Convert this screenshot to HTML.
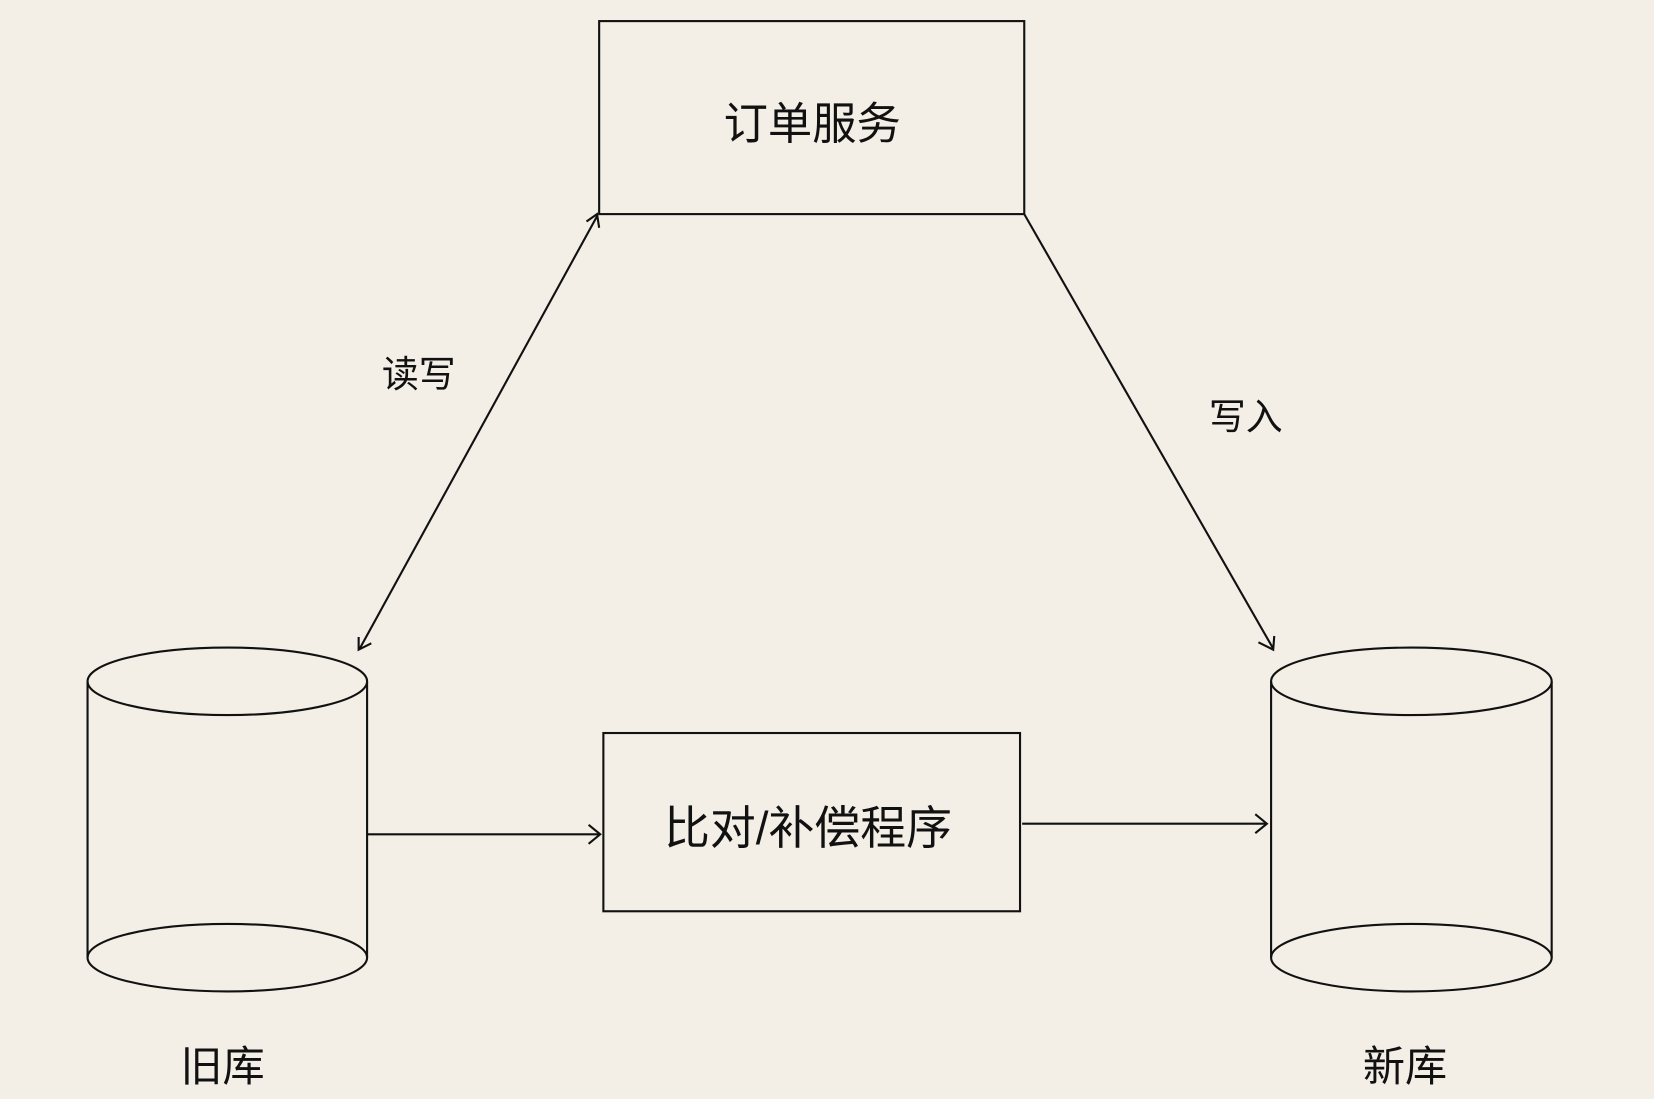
<!DOCTYPE html>
<html><head><meta charset="utf-8"><style>
html,body{margin:0;padding:0;background:#f3efe6;}
svg{display:block;}
text{font-family:"Liberation Sans","Noto Sans CJK SC",sans-serif;fill:#111;}
</style></head><body>
<svg width="1654" height="1099" viewBox="0 0 1568 1042" preserveAspectRatio="none" xmlns="http://www.w3.org/2000/svg">
<rect width="1568" height="1042" fill="#f3efe6"/>
<g stroke="#111" stroke-width="2" fill="none">
<rect x="568" y="20" width="403" height="183"/>
<rect x="572" y="695" width="395" height="169"/>
<line x1="566" y1="205" x2="341" y2="615"/>
<polyline points="556,210 566,203 568,216"/>
<polyline points="340,604 340,616 352,610"/>
<line x1="971" y1="203" x2="1207" y2="615"/>
<polyline points="1193,609 1207,616 1208,603"/>
<line x1="348" y1="791" x2="569" y2="791"/>
<polyline points="558,782 569,791 558,800"/>
<line x1="969" y1="781" x2="1201" y2="781"/>
<polyline points="1190,772 1201,781 1190,790"/>
<ellipse cx="215.5" cy="646" rx="132.5" ry="32"/>
<path d="M83,646 V908 A132.5,32 0 0 0 348,908 V646"/>
<path d="M83,908 A132.5,32 0 0 1 348,908"/>
<ellipse cx="1338" cy="646" rx="133" ry="32"/>
<path d="M1205,646 V908 A133,32 0 0 0 1471,908 V646"/>
<path d="M1205,908 A133,32 0 0 1 1471,908"/>
</g>
<text x="770" y="132" font-size="42" text-anchor="middle">订单服务</text>
<text x="766" y="800" font-size="43.5" text-anchor="middle">比对/补偿程序</text>
<text x="397" y="367" font-size="35" text-anchor="middle">读写</text>
<text x="1181" y="407" font-size="35" text-anchor="middle">写入</text>
<text x="211" y="1025" font-size="40" text-anchor="middle">旧库</text>
<text x="1332" y="1025" font-size="40" text-anchor="middle">新库</text>
</svg>
</body></html>
